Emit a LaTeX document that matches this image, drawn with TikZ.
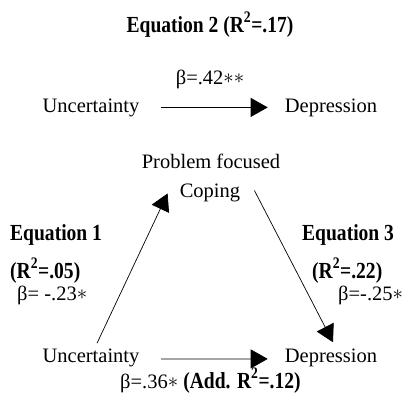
\documentclass[tikz,border=0pt]{standalone}
\usepackage{fontspec}
\setmainfont{Liberation Serif}
\newfontfamily\eqfont{Liberation Serif}[FakeStretch=0.85]
\usetikzlibrary{arrows.meta}
\newcommand{\st}{\raisebox{0.5pt}{$\ast$}}
\tikzset{
  txt/.style={inner sep=0pt, font=\fontsize{20.5}{22}\selectfont, anchor=base},
  eq/.style={inner sep=0pt, font=\eqfont\bfseries\fontsize{23}{25}\selectfont, anchor=base},
  arr/.style={line width=0.7pt, -{Triangle[length=17pt,width=19pt]}},
  ln/.style={line width=0.7pt}
}
\begin{document}
\begin{tikzpicture}[x=1pt,y=-1pt]
\useasboundingbox (0,0) rectangle (409,394);
% Equation 2
\node[eq] (t2) at (210,32) {Equation 2 (R\textsuperscript{2}=.17)};
\node[txt] (b2) at (210,84) {β=.42\st\st};
\node[txt] (u1) at (91,112) {Uncertainty};
\node[txt] (d1) at (331,112) {Depression};
\draw[arr, shorten <=21.5pt, shorten >=17pt] (u1.east) -- (d1.west);
% mediation
\node[txt] (pf) at (211,168) {Problem focused};
\node[txt] (cp) at (210,197) {Coping};
\node[txt] (u2) at (91,362) {Uncertainty};
\node[txt] (d2) at (331,362) {Depression};
\draw[arr] ([shift={(6,-5)}]u2.north) -- ([shift={(-12,1)}]cp.west);
\draw[arr] ([shift={(14,-2)}]cp.east) -- ([shift={(2,-6)}]d2.north);
\draw[arr, shorten <=21.5pt, shorten >=17pt] ([shift={(0,1.5)}]u2.east) -- ([shift={(0,1.5)}]d2.west);
% labels
\node[eq, anchor=base west] (e1) at (10,240) {Equation 1};
\node[eq, anchor=base west] (r1) at (10,278) {(R\textsuperscript{2}=.05)};
\node[txt, anchor=base west] (b1) at (17,300) {β= -.23\st};
\node[eq, anchor=base west] (e3) at (302,240) {Equation 3};
\node[eq, anchor=base west] (r3) at (312,278) {(R\textsuperscript{2}=.22)};
\node[txt, anchor=base west] (b3) at (338,300) {β=-.25\st};
\node[txt, anchor=base west] (bb) at (120,388) {β=.36\st\ {\eqfont\bfseries\fontsize{23}{25}\selectfont (Add. R\textsuperscript{2}=.12)}};
\end{tikzpicture}
\end{document}
